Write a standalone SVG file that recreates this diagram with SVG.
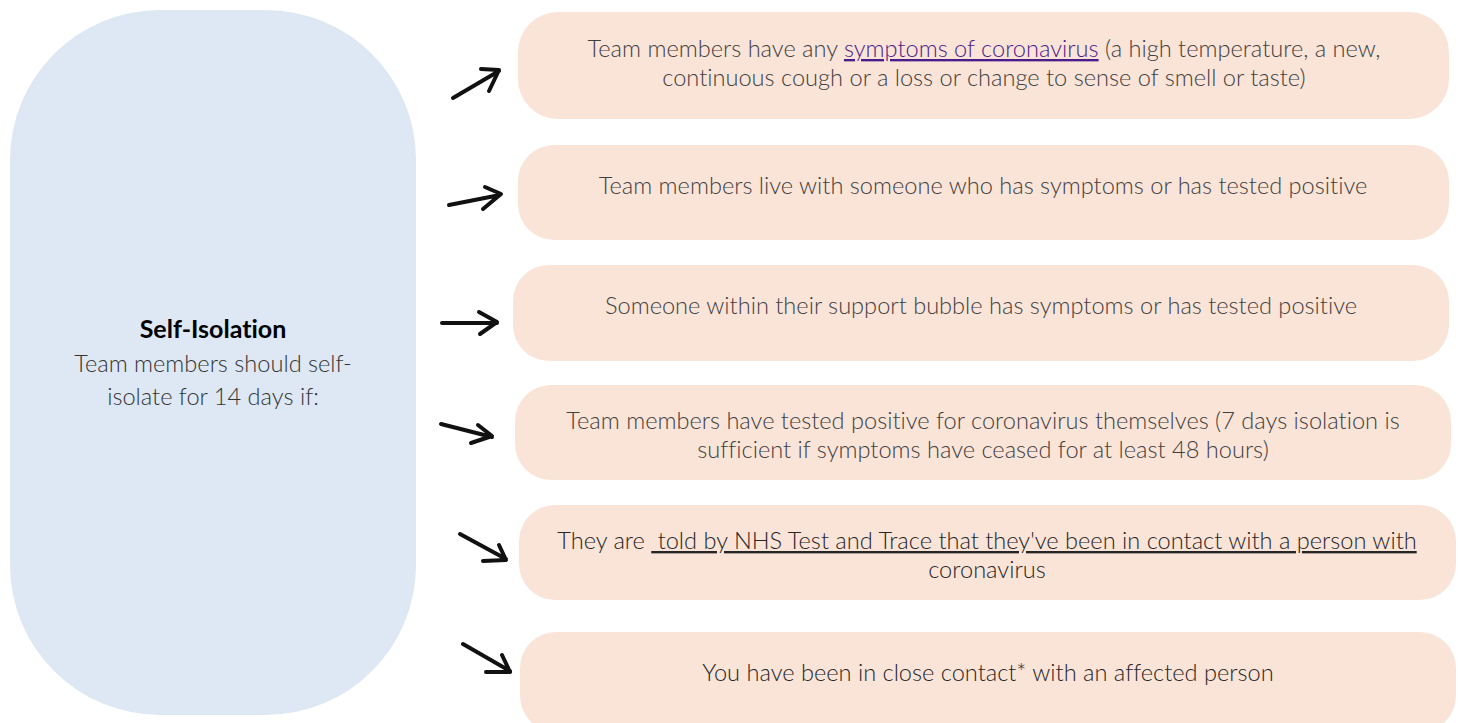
<svg xmlns="http://www.w3.org/2000/svg" width="1460" height="723" viewBox="0 0 1460 723">
<defs>
<style>
.box{fill:#fae4d8;}
.t{font-family:Lato,"Open Sans","Liberation Sans",sans-serif;font-weight:300;font-size:23.6px;fill:#404040;text-anchor:middle;font-variant-ligatures:none;}
.arr{fill:none;stroke:#111;stroke-width:4;stroke-linecap:round;stroke-linejoin:round;}
.link{fill:#4b1d8a;text-decoration:underline;}
</style>
</defs>
<rect width="1460" height="723" fill="#ffffff"/>
<g id="self-isolation">
<rect x="10" y="10" width="406" height="705" rx="150" ry="150" fill="#dde8f4"/>
<text class="t" x="213" y="338" style="font-weight:700;font-size:25px;fill:#000">Self-Isolation</text>
<text class="t" x="213" y="372" style="fill:#333">Team members should self-</text>
<text class="t" x="213" y="405" style="fill:#333">isolate for 14 days if:</text>
</g>
<g id="connectors">
<path class="arr" d="M453,98 L499,71 M481,69 L499,70 L489,91"/>
<path class="arr" d="M449,205 L500,195 M485,187 L501,194 L483,209"/>
<path class="arr" d="M442,323 L497,323 M479,312 L497,322 L480,334"/>
<path class="arr" d="M441,424 L492,437 M478,425 L492,436 L471,443"/>
<path class="arr" d="M460,534 L506,559 M499,545 L506,560 L483,561"/>
<path class="arr" d="M463,644 L510,671 M502,655 L510,672 L486,672"/>
</g>
<g id="n1">
<rect class="box" x="518" y="12" width="931" height="107" rx="40"/>
<text class="t" x="984" y="57">Team members have any <tspan class="link">symptoms of coronavirus</tspan> (a high temperature, a new,</text>
<text class="t" x="984" y="86">continuous cough or a loss or change to sense of smell or taste)</text>
</g>
<g id="n2">
<rect class="box" x="518" y="145" width="931" height="95" rx="36"/>
<text class="t" x="983" y="194">Team members live with someone who has symptoms or has tested positive</text>
</g>
<g id="n3">
<rect class="box" x="513" y="265" width="936" height="96" rx="36"/>
<text class="t" x="981" y="314">Someone within their support bubble has symptoms or has tested positive</text>
</g>
<g id="n4">
<rect class="box" x="515" y="385" width="936" height="95" rx="36"/>
<text class="t" x="983" y="429">Team members have tested positive for coronavirus themselves (7 days isolation is</text>
<text class="t" x="983" y="458">sufficient if symptoms have ceased for at least 48 hours)</text>
</g>
<g id="n5">
<rect class="box" x="519" y="505" width="937" height="95" rx="36"/>
<text class="t" x="987" y="549" style="fill:#262626;white-space:pre" xml:space="preserve">They are <tspan style="text-decoration:underline"> told by NHS Test and Trace that they've been in contact with a person with</tspan></text>
<text class="t" x="987" y="578" style="fill:#262626">coronavirus</text>
</g>
<g id="n6">
<rect class="box" x="520" y="632" width="936" height="100" rx="36"/>
<text class="t" x="988" y="681" style="fill:#262626">You have been in close contact* with an affected person</text>
</g>
</svg>
